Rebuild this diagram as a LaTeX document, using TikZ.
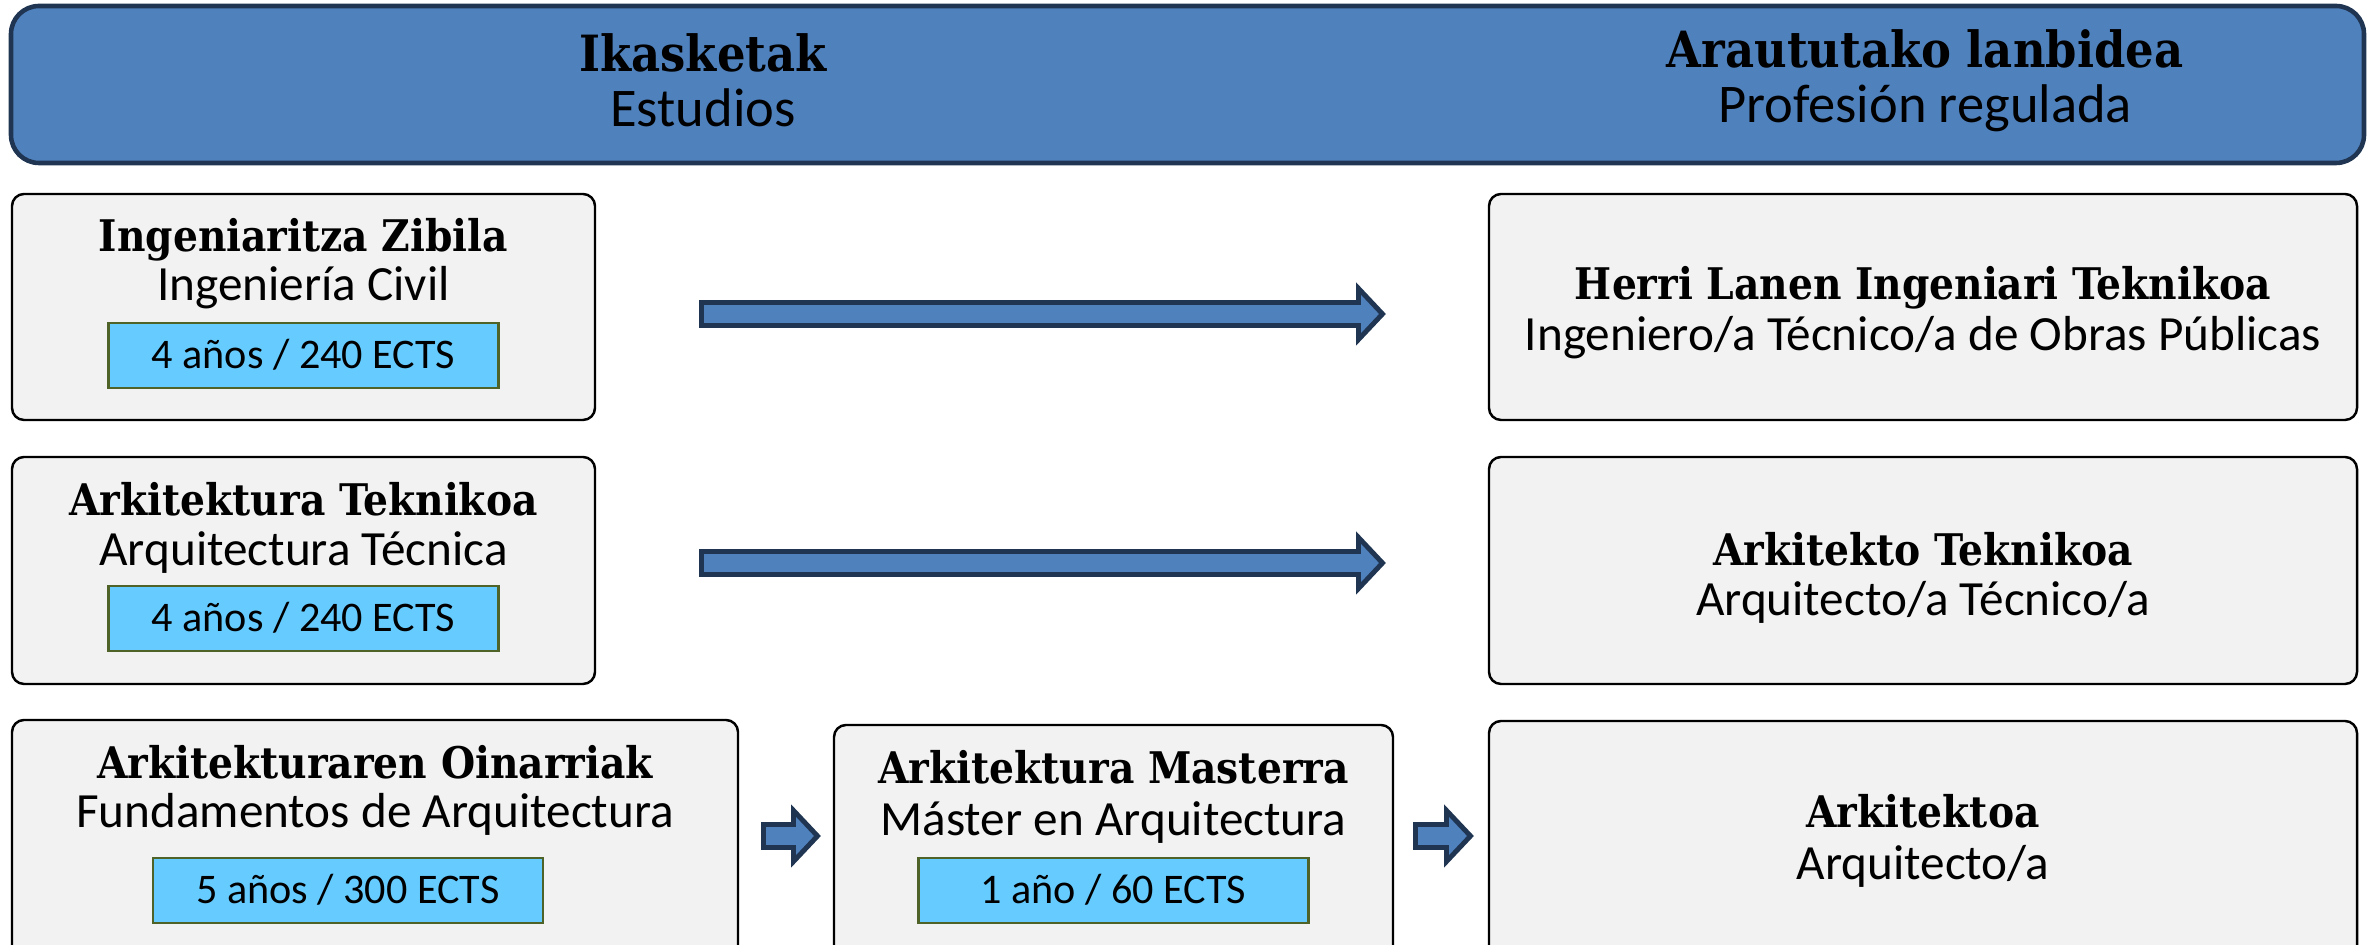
\documentclass[tikz,border=0pt]{standalone}
\usepackage{fontspec}
\setmainfont{Carlito}
\newfontfamily\slab{DejaVu Serif Condensed}
\usetikzlibrary{positioning}
\usetikzlibrary{calc}

\definecolor{steel}{HTML}{4F81BD}
\definecolor{navy}{HTML}{1F3552}
\definecolor{cardgray}{HTML}{F2F2F2}
\definecolor{skyblue}{HTML}{66CCFF}
\definecolor{olivegreen}{HTML}{4F6228}

\tikzset{
  banner/.style={draw=navy, line width=1.3pt, fill=steel, rounded corners=0.28cm},
  card/.style={draw=black, line width=0.7pt, fill=cardgray, rounded corners=0.12cm, inner sep=0pt},
  credits/.style={draw=olivegreen, line width=0.7pt, fill=skyblue, minimum width=3.9cm, minimum height=0.65cm,
    text height=1.5ex, text depth=0pt, font=\fontsize{12}{14}\selectfont},
  title/.style={text height=1.5ex, text depth=0pt, inner sep=0pt, font=\slab\bfseries\fontsize{12.4}{15}\selectfont},
  subtitle/.style={text height=1.5ex, text depth=0pt, inner sep=0pt, font=\fontsize{14}{16}\selectfont},
  bigtitle/.style={text height=1.5ex, text depth=0pt, inner sep=0pt, font=\slab\bfseries\fontsize{14.2}{17}\selectfont},
  bigsubtitle/.style={text height=1.5ex, text depth=0pt, inner sep=0pt, font=\fontsize{15.5}{18}\selectfont},
  blockarrow/.style={draw=navy, line width=1.4pt, fill=steel}
}

% fat arrow from #1 to tip #2
\newcommand{\fatarrow}[2]{%
  \draw[blockarrow] ($#1+(0,0.115)$) -- ($#2+(-0.24,0.115)$) -- ($#2+(-0.24,0.255)$) -- #2
    -- ($#2+(-0.24,-0.255)$) -- ($#2+(-0.24,-0.115)$) -- ($#1+(0,-0.115)$) -- cycle;}

\begin{document}
\begin{tikzpicture}
  \useasboundingbox (0,0) rectangle (23.72,-9.45);
  \clip (0,0) rectangle (23.72,-9.45);

  % header band
  \node[banner, minimum width=23.53cm, minimum height=1.57cm] (band) at (11.875,-0.845) {};
  \node[bigtitle] (studt) at (7.03,-0.59) {Ikasketak};
  \node[bigsubtitle] (studs) at (7.03,-1.14) {Estudios};
  \node[bigtitle] (proft) at (19.25,-0.55) {Araututako lanbidea};
  \node[bigsubtitle] (profs) at (19.25,-1.10) {Profesión regulada};

  % studies
  \node[card, minimum width=5.83cm, minimum height=2.26cm] (zib) at (3.035,-3.07) {};
  \node[title] (zibt) at (3.035,-2.39) {Ingeniaritza Zibila};
  \node[subtitle] (zibs) at (3.035,-2.88) {Ingeniería Civil};
  \node[credits] (zibc) at (3.035,-3.555) {4 años / 240 ECTS};

  \node[card, minimum width=5.83cm, minimum height=2.27cm] (tek) at (3.035,-5.705) {};
  \node[title] (tekt) at (3.035,-5.03) {Arkitektura Teknikoa};
  \node[subtitle] (teks) at (3.035,-5.53) {Arquitectura Técnica};
  \node[credits] (tekc) at (3.035,-6.185) {4 años / 240 ECTS};

  \node[card, minimum width=7.26cm, minimum height=2.6cm] (oin) at (3.75,-8.5) {};
  \node[title] (oint) at (3.75,-7.66) {Arkitekturaren Oinarriak};
  \node[subtitle] (oins) at (3.75,-8.15) {Fundamentos de Arquitectura};
  \node[credits] (oinc) at (3.48,-8.905) {5 años / 300 ECTS};

  \node[card, minimum width=5.59cm, minimum height=2.55cm] (mas) at (11.135,-8.525) {};
  \node[title] (mast) at (11.135,-7.71) {Arkitektura Masterra};
  \node[subtitle] (mass) at (11.135,-8.23) {Máster en Arquitectura};
  \node[credits] (masc) at (11.135,-8.905) {1 año / 60 ECTS};

  % professions
  \node[card, minimum width=8.68cm, minimum height=2.26cm] (hlit) at (19.23,-3.07) {};
  \node[title] (hlitt) at (19.23,-2.87) {Herri Lanen Ingeniari Teknikoa};
  \node[subtitle] (hlits) at (19.23,-3.38) {Ingeniero/a Técnico/a de Obras Públicas};

  \node[card, minimum width=8.68cm, minimum height=2.27cm] (atek) at (19.23,-5.705) {};
  \node[title] (atekt) at (19.23,-5.53) {Arkitekto Teknikoa};
  \node[subtitle] (ateks) at (19.23,-6.03) {Arquitecto/a Técnico/a};

  \node[card, minimum width=8.68cm, minimum height=2.6cm] (arki) at (19.23,-8.51) {};
  \node[title] (arkit) at (19.23,-8.15) {Arkitektoa};
  \node[subtitle] (arkis) at (19.23,-8.67) {Arquitecto/a};

  % arrows
  \coordinate (a1s) at (7.015,-3.14);
  \coordinate (a1e) at (13.825,-3.14);
  \coordinate (a2s) at (7.015,-5.63);
  \coordinate (a2e) at (13.825,-5.63);
  \coordinate (a3s) at (7.635,-8.36);
  \coordinate (a3e) at (8.175,-8.36);
  \coordinate (a4s) at (14.155,-8.36);
  \coordinate (a4e) at (14.705,-8.36);
  \fatarrow{(a1s)}{(a1e)}
  \fatarrow{(a2s)}{(a2e)}
  \fatarrow{(a3s)}{(a3e)}
  \fatarrow{(a4s)}{(a4e)}
\end{tikzpicture}
\end{document}
